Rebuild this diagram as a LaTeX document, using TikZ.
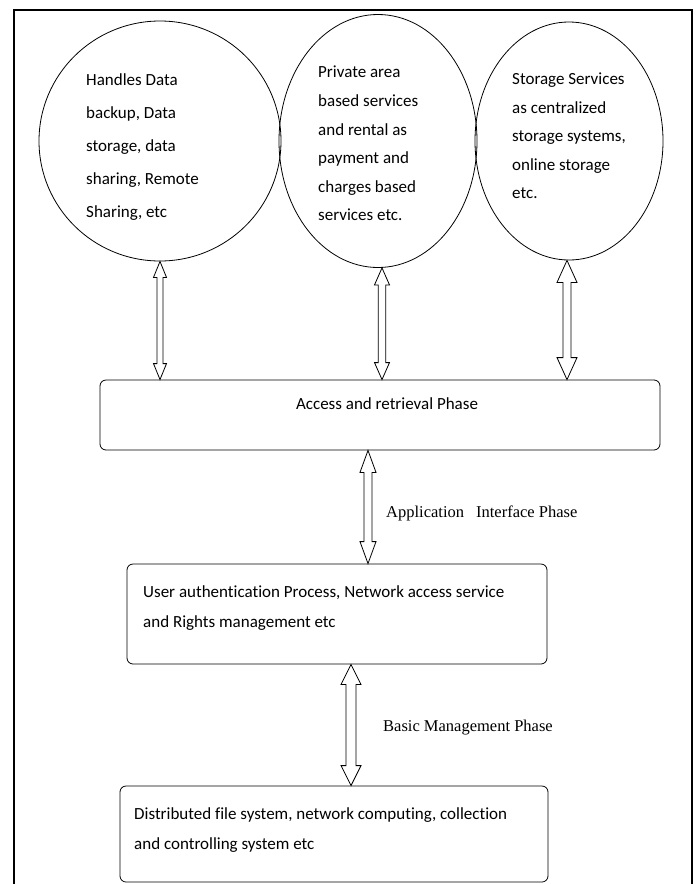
\documentclass[tikz,border=0pt]{standalone}
\usepackage{fontspec}
\setmainfont{Carlito}[Ligatures=NoCommon]
\newfontfamily\phasefont{Liberation Serif}
\usetikzlibrary{shapes.geometric,calc}

\tikzset{
  % shaft half-width / head half-width / head length of the hollow double arrows
  arrowdims/.code args={#1/#2/#3}{\def\arsw{#1}\def\arhw{#2}\def\arhl{#3}},
  arrowdims=3.5pt/7.5pt/16pt,
  dblarrow/.style={draw, line width=0.8pt, line join=miter, to path={
      let \p1=(\tikztostart), \p2=(\tikztotarget) in
      (\x1,\y1) -- (\x1+\arhw,\y1-\arhl) -- (\x1+\arsw,\y1-\arhl)
      -- (\x1+\arsw,\y2+\arhl) -- (\x1+\arhw,\y2+\arhl) -- (\x1,\y2)
      -- (\x1-\arhw,\y2+\arhl) -- (\x1-\arsw,\y2+\arhl)
      -- (\x1-\arsw,\y1-\arhl) -- (\x1-\arhw,\y1-\arhl) -- cycle}},
  service/.style={ellipse, draw, line width=0.8pt, inner sep=0pt},
  servicetext/.style={inner sep=0pt, anchor=north west, align=left},
  phasebox/.style={rectangle, draw, line width=0.8pt, rounded corners=6pt, inner sep=0pt},
  boxtext/.style={inner sep=0pt, align=left, font=\fontsize{17}{30}\selectfont},
  phaselabel/.style={inner sep=0pt, anchor=west, font=\phasefont\fontsize{16.5}{20}\selectfont},
}

\begin{document}
\begin{tikzpicture}[x=1pt,y=1pt]
  \useasboundingbox (0,0) rectangle (696,-884);
  \fill[white] (0,0) rectangle (696,-884);

  % outer frame (open at the bottom edge)
  \draw[line width=2.6pt] (14,-884) -- (14,-10) -- (692,-10) -- (692,-884);

  % service circles
  \node[service, minimum width=242pt, minimum height=240pt] (c1) at (160,-141) {};
  \node[service, minimum width=198pt, minimum height=253pt] (c2) at (378,-141) {};
  \node[service, minimum width=188pt, minimum height=238pt] (c3) at (569,-141) {};

  \node[servicetext, font=\fontsize{17}{33.2}\selectfont] (c1t) at (86,-73)
    {Handles Data\\backup, Data\\storage, data\\sharing, Remote\\Sharing, etc};
  \node[servicetext, font=\fontsize{17}{28.6}\selectfont] (c2t) at (318,-66)
    {Private area\\based services\\and rental as\\payment and\\charges based\\services etc.};
  \node[servicetext, font=\fontsize{17}{28.5}\selectfont] (c3t) at (512,-73)
    {Storage Services\\as centralized\\storage systems,\\online storage\\etc.};

  % phase boxes
  \node[phasebox, minimum width=560pt, minimum height=70pt] (acc) at (380,-415) {};
  \node[boxtext] (acct) at (387,-404) {Access and retrieval Phase};

  \node[phasebox, minimum width=420pt, minimum height=100pt] (user) at (337,-614) {};
  \node[boxtext, anchor=north west] (usert) at (143,-585)
    {User authentication Process, Network access service\\and Rights management etc};

  \node[phasebox, minimum width=428pt, minimum height=96pt] (dist) at (334,-834) {};
  \node[boxtext, anchor=north west] (distt) at (134,-807)
    {Distributed file system, network computing, collection\\and controlling system etc};

  % hollow double-headed arrows
  \draw[dblarrow, arrowdims=3pt/6.5pt/16pt] (c1.south) to (c1.south |- acc.north);
  \coordinate (c2foot) at ([xshift=4pt]c2.south);
  \draw[dblarrow, arrowdims=3.8pt/7.5pt/17pt] (c2foot) to (c2foot |- acc.north);
  \coordinate (c3foot) at ([xshift=-2pt]c3.south);
  \draw[dblarrow, arrowdims=4pt/10pt/22pt] (c3foot) to (c3foot |- acc.north);

  \coordinate (accfoot) at ([xshift=-12pt]acc.south);
  \draw[dblarrow, arrowdims=4pt/8pt/22pt] (accfoot) to (accfoot |- user.north);
  \coordinate (userfoot) at ([xshift=14pt]user.south);
  \draw[dblarrow, arrowdims=5pt/10pt/20pt] (userfoot) to (userfoot |- dist.north);

  % arrow labels
  \node[phaselabel] (api) at (386,-513) {Application\hspace{12pt}Interface Phase};
  \node[phaselabel] (bmp) at (383,-728) {Basic Management Phase};
\end{tikzpicture}
\end{document}
